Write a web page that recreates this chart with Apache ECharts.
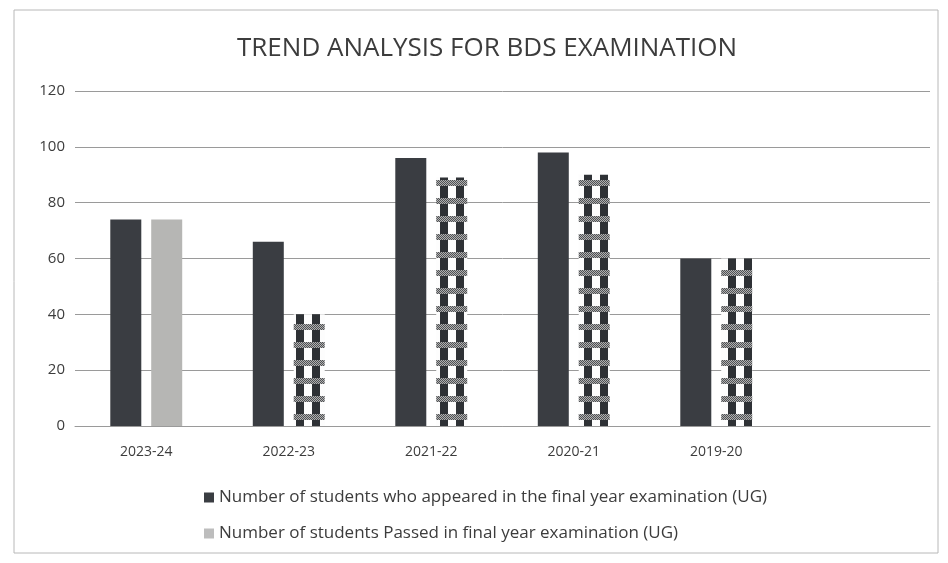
<!DOCTYPE html>
<html><head><meta charset="utf-8">
<script src="https://cdn.jsdelivr.net/npm/echarts@6/dist/echarts.min.js"></script>
<style>html,body{margin:0;padding:0;background:#fff}#c{width:948px;height:563px}</style>
</head><body><div id="c"></div>
<script>
const categories = ['2023-24', '2022-23', '2021-22', '2020-21', '2019-20', ''];
const appeared = [74, 66, 96, 98, 60, null];
const passed = [74, 40, 89, 90, 60, null];
const yTicks = [0, 20, 40, 60, 80, 100, 120];
const seriesNames = ['Number of students who appeared in the final year examination (UG)',
                     'Number of students Passed in final year examination (UG)'];
const titleText = 'TREND ANALYSIS FOR BDS EXAMINATION';

function makePattern() {
  const c = document.createElement('canvas');
  c.width = 16; c.height = 18;
  const g = c.getContext('2d');
  g.fillStyle = '#fdfdfd'; g.fillRect(0, 0, 16, 18);
  g.fillStyle = '#2e3135'; g.fillRect(8, 6, 8, 12);
  for (let x = 0; x < 16; x++) {
    for (let y = 0; y < 6; y++) {
      g.fillStyle = ((x + y) % 2 === 0) ? '#4f5154' : '#b0b0b0';
      g.fillRect(x, y, 1, 1);
    }
  }
  return c;
}
const pattern = { image: makePattern(), repeat: 'repeat' };

const chart = echarts.init(document.getElementById('c'), null, { renderer: 'canvas' });
const font = '"Open Sans", "Noto Sans", sans-serif';
chart.setOption({
  animation: false,
  backgroundColor: '#fff',
  textStyle: { fontFamily: font },
  title: {
    text: titleText, left: 232, top: 31,
    textStyle: { fontFamily: font, fontWeight: 'normal', fontSize: 26, color: '#3c3c3c' }
  },
  graphic: [{
    type: 'rect', shape: { x: 14, y: 10, width: 924, height: 543 },
    style: { fill: 'none', stroke: '#b8b8b8', lineWidth: 1 }, silent: true, z: -1
  }],
  legend: {
    orient: 'vertical', left: 199, top: 484, itemGap: 19,
    itemWidth: 10, itemHeight: 10, icon: 'rect',
    textStyle: { fontFamily: font, fontSize: 17, color: '#3c3c3c' },
    data: [
      { name: seriesNames[0], itemStyle: { color: '#3a3d42' } },
      { name: seriesNames[1], itemStyle: { color: '#bdbdbd' } }
    ]
  },
  grid: { left: 75, right: 18, top: 91, bottom: 137, containLabel: false },
  xAxis: {
    type: 'category', data: categories,
    axisLine: { lineStyle: { color: '#9a9a9a' } },
    axisTick: { show: false },
    axisLabel: { fontSize: 14, color: '#3c3c3c', margin: 19 }
  },
  yAxis: {
    type: 'value', min: 0, max: 120, interval: 20,
    axisLine: { show: false }, axisTick: { show: false },
    axisLabel: { fontSize: 15, color: '#3c3c3c', margin: 10,
      formatter: v => yTicks.includes(v) ? String(v) : '' },
    splitLine: { lineStyle: { color: '#9a9a9a', width: 1 } }
  },
  series: [
    { name: seriesNames[0], type: 'bar', data: appeared, barWidth: 31, barGap: '32%',
      itemStyle: { color: '#3a3d42' } },
    { name: seriesNames[1], type: 'bar', barWidth: 31,
      data: passed.map((v, i) => i === 0 ? { value: v, itemStyle: { color: '#b6b6b4' } } : v),
      itemStyle: { color: pattern } }
  ]
});
</script></body></html>
